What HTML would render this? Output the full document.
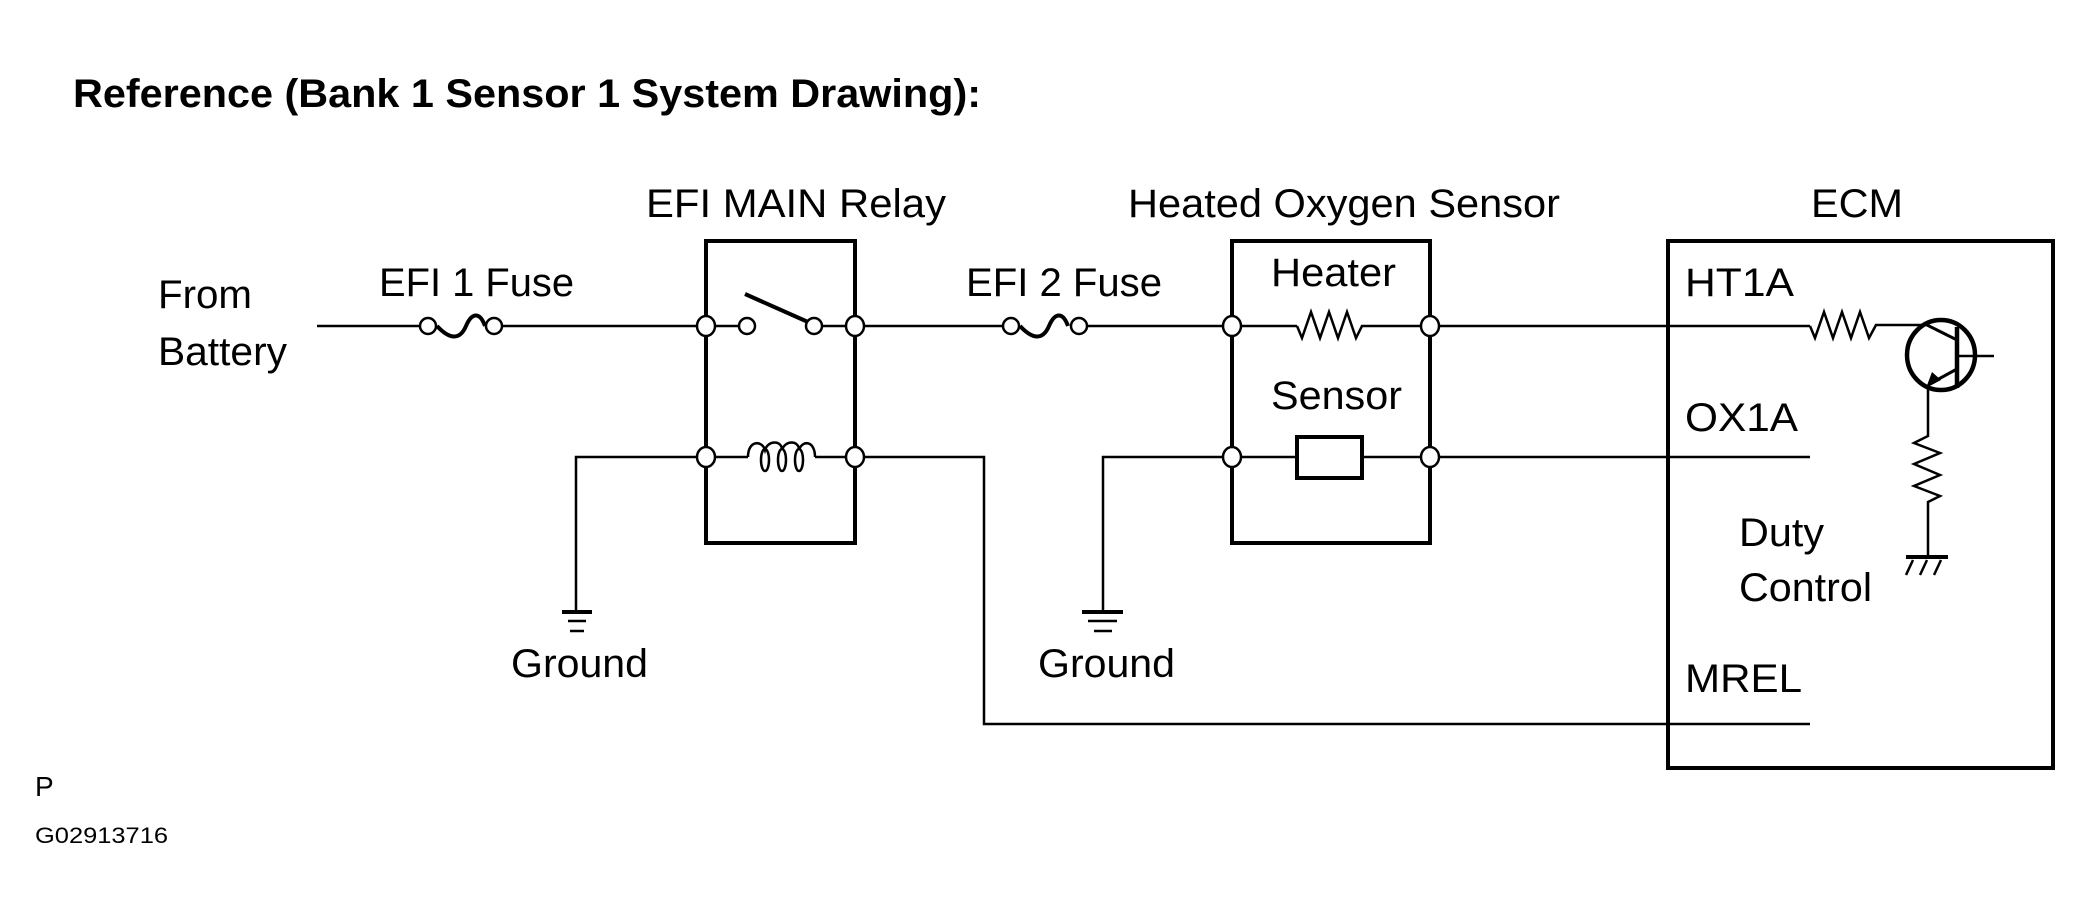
<!DOCTYPE html>
<html><head><meta charset="utf-8"><style>
html,body{margin:0;padding:0;background:#fff;}
svg{display:block;}
text{font-family:"Liberation Sans",Arial,sans-serif;font-size:40px;fill:#000;}
</style></head><body>
<svg width="2094" height="917" viewBox="0 0 2094 917" xmlns="http://www.w3.org/2000/svg">
<g stroke="#000" fill="none" stroke-width="2.5">
<line x1="317" y1="326" x2="419" y2="326"/>
<path d="M437,326 C450,340 460,340 466,326 C472,312 480,312 485,326" stroke-width="4"/>
<line x1="503" y1="326" x2="696" y2="326"/>
<rect x="706" y="241" width="149" height="302" stroke-width="4"/>
<line x1="716" y1="326" x2="739" y2="326"/>
<line x1="745" y1="294" x2="808" y2="322" stroke-width="4"/>
<line x1="822" y1="326" x2="845" y2="326"/>
<line x1="865" y1="326" x2="1002" y2="326"/>
<path d="M1020,326 C1033,340 1043,340 1049,326 C1055,312 1063,312 1068,326" stroke-width="4"/>
<line x1="1088" y1="326" x2="1222" y2="326"/>
<line x1="716" y1="457" x2="748" y2="457"/>
<path d="M748,457 C748,440 762,440 765,450 C768,440 782,440 782,450 C785,440 799,440 799,450 C802,440 815,440 815,457" />
<ellipse cx="765" cy="460" rx="4" ry="11"/><ellipse cx="782" cy="460" rx="4" ry="11"/><ellipse cx="799" cy="460" rx="4" ry="11"/>
<line x1="815" y1="457" x2="845" y2="457"/>
<polyline points="696,457 576,457 576,612"/>
<polyline points="865,457 984,457 984,724 1810,724"/>
<line x1="562" y1="612" x2="592" y2="612" stroke-width="4"/>
<line x1="568" y1="621" x2="586" y2="621"/>
<line x1="570" y1="631" x2="584" y2="631"/>
<rect x="1232" y="241" width="198" height="302" stroke-width="4"/>
<line x1="1242" y1="326" x2="1297" y2="326"/>
<polyline points="1297,326 1302,338 1311,312 1320,338 1329,312 1338,338 1347,312 1356,338 1362,326 1420,326"/>
<line x1="1242" y1="457" x2="1297" y2="457"/>
<rect x="1297" y="437" width="65" height="41" stroke-width="4"/>
<line x1="1362" y1="457" x2="1420" y2="457"/>
<polyline points="1222,457 1103,457 1103,612"/>
<line x1="1082" y1="612" x2="1123" y2="612" stroke-width="4"/>
<line x1="1088" y1="621" x2="1117" y2="621"/>
<line x1="1094" y1="631" x2="1112" y2="631"/>
<line x1="1440" y1="326" x2="1810" y2="326"/>
<line x1="1440" y1="457" x2="1810" y2="457"/>
<rect x="1668" y="241" width="385" height="527" stroke-width="4"/>
<polyline points="1810,326 1815,338 1824,312 1833,338 1842,312 1851,338 1860,312 1869,338 1876,325 1927,325"/>
<ellipse cx="1941" cy="355" rx="34" ry="35" stroke-width="4.5"/>
<line x1="1957" y1="327" x2="1957" y2="388" stroke-width="4.5"/>
<line x1="1957" y1="356" x2="1994" y2="356"/>
<line x1="1927" y1="325" x2="1957" y2="340" stroke-width="3"/>
<line x1="1957" y1="369" x2="1935" y2="381" stroke-width="3"/>
<polyline points="1928,385 1928,436 1914,443 1940,453 1914,464 1940,475 1914,486 1940,496 1928,502 1928,557"/>
<line x1="1906" y1="557" x2="1948" y2="557" stroke-width="4"/>
<line x1="1913" y1="560" x2="1906" y2="575"/><line x1="1927" y1="560" x2="1920" y2="575"/><line x1="1941" y1="560" x2="1934" y2="575"/>
</g>
<polygon points="1926,388 1932,372 1941,380" fill="#000"/>
<g fill="#fff" stroke="#000" stroke-width="2.5">
<circle cx="428" cy="326" r="8"/><circle cx="494" cy="326" r="8"/>
<circle cx="1011" cy="326" r="8"/><circle cx="1079" cy="326" r="8"/>
<circle cx="747" cy="326" r="8"/><circle cx="814" cy="326" r="8"/>
<ellipse cx="706" cy="326" rx="9" ry="10"/><ellipse cx="855" cy="326" rx="9" ry="10"/>
<ellipse cx="706" cy="457" rx="9" ry="10"/><ellipse cx="855" cy="457" rx="9" ry="10"/>
<ellipse cx="1232" cy="326" rx="9" ry="10"/><ellipse cx="1430" cy="326" rx="9" ry="10"/>
<ellipse cx="1232" cy="457" rx="9" ry="10"/><ellipse cx="1430" cy="457" rx="9" ry="10"/>
</g>
<text x="73" y="107" font-weight="bold" textLength="908" lengthAdjust="spacingAndGlyphs" style="font-size:40px">Reference (Bank 1 Sensor 1 System Drawing):</text>
<text x="158" y="308" textLength="94" lengthAdjust="spacingAndGlyphs">From</text>
<text x="158" y="365" textLength="129" lengthAdjust="spacingAndGlyphs">Battery</text>
<text x="379" y="296" textLength="195" lengthAdjust="spacingAndGlyphs">EFI 1 Fuse</text>
<text x="646" y="217" textLength="300" lengthAdjust="spacingAndGlyphs">EFI MAIN Relay</text>
<text x="966" y="296" textLength="196" lengthAdjust="spacingAndGlyphs">EFI 2 Fuse</text>
<text x="1128" y="217" textLength="432" lengthAdjust="spacingAndGlyphs">Heated Oxygen Sensor</text>
<text x="1811" y="217" textLength="92" lengthAdjust="spacingAndGlyphs">ECM</text>
<text x="1271" y="286" textLength="125" lengthAdjust="spacingAndGlyphs">Heater</text>
<text x="1271" y="409" textLength="131" lengthAdjust="spacingAndGlyphs">Sensor</text>
<text x="511" y="677" textLength="137" lengthAdjust="spacingAndGlyphs">Ground</text>
<text x="1038" y="677" textLength="137" lengthAdjust="spacingAndGlyphs">Ground</text>
<text x="1685" y="296" textLength="109" lengthAdjust="spacingAndGlyphs">HT1A</text>
<text x="1685" y="431" textLength="113" lengthAdjust="spacingAndGlyphs">OX1A</text>
<text x="1685" y="692" textLength="117" lengthAdjust="spacingAndGlyphs">MREL</text>
<text x="1739" y="546" textLength="85" lengthAdjust="spacingAndGlyphs">Duty</text>
<text x="1739" y="601" textLength="133" lengthAdjust="spacingAndGlyphs">Control</text>
<text x="35" y="796" style="font-size:28px">P</text>
<text x="35" y="843" style="font-size:22px" textLength="133" lengthAdjust="spacingAndGlyphs">G02913716</text>
</svg>
</body></html>
